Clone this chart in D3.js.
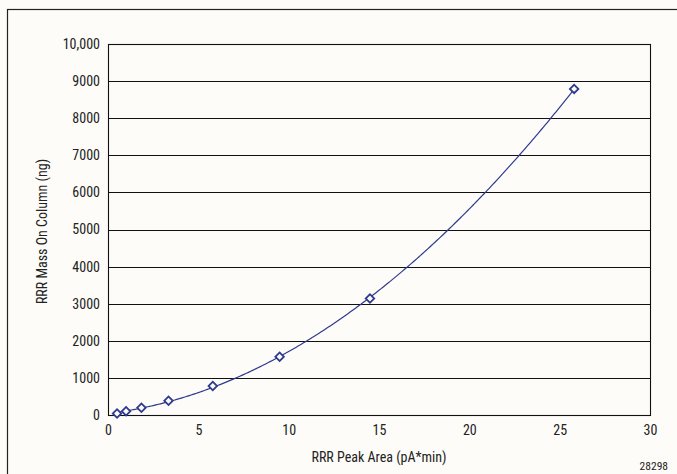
<!DOCTYPE html>
<html>
<head>
<meta charset="utf-8">
<script src="https://cdn.jsdelivr.net/npm/d3@7"></script>
<style>
  body { margin: 0; background: #fdfcf8; }
  svg text { font-family: "Liberation Sans Narrow", "Arial Narrow", "Roboto Condensed", sans-serif; fill: #222; }
</style>
</head>
<body>
<svg id="chart"></svg>
<script>
// peak area (pA*min) vs mass on column (ng)
const peakArea = [0.5, 1.0, 1.85, 3.35, 5.8, 9.5, 14.5, 25.8];
const massNg = [40, 100, 195, 385, 780, 1570, 3140, 8790];
const xTicks = [0, 5, 10, 15, 20, 25, 30];
const yTicks = [0, 1000, 2000, 3000, 4000, 5000, 6000, 7000, 8000, 9000, 10000];

const W = 677, H = 474;
const margin = { top: 44, right: 27, bottom: 59, left: 108 };
const width = W - margin.left - margin.right;
const height = H - margin.top - margin.bottom;
const navy = '#2e3a8f';

const svg = d3.select('#chart').attr('width', W).attr('height', H);

// outer frame
svg.append('rect').attr('x', 7.5).attr('y', 9.5).attr('width', W).attr('height', H)
  .attr('fill', '#fdfcf8').attr('stroke', '#222').attr('stroke-width', 1.2);

const g = svg.append('g').attr('transform', `translate(${margin.left},${margin.top})`);

const x = d3.scaleLinear().domain([0, 30]).range([0, width]);
const y = d3.scaleLinear().domain([0, 10000]).range([height, 0]);

// gridlines
g.selectAll('.grid').data(yTicks).join('line')
  .attr('x1', 0).attr('x2', width)
  .attr('y1', (d) => Math.round(y(d)) + 0.5).attr('y2', (d) => Math.round(y(d)) + 0.5)
  .attr('stroke', '#111').attr('stroke-width', 1.1);

g.append('rect').attr('x', 0.5).attr('y', 0.5).attr('width', width).attr('height', height)
  .attr('fill', 'none').attr('stroke', '#111').attr('stroke-width', 1.1);

// axes, labels only
const xAxis = d3.axisBottom(x).tickValues(xTicks).tickSize(0).tickPadding(10).tickFormat(d3.format('d'));
const yAxis = d3.axisLeft(y).tickValues(yTicks).tickSize(0).tickPadding(8)
  .tickFormat((d) => (d === 10000 ? '10,000' : String(d)));

g.append('g').attr('transform', `translate(0,${height})`).call(xAxis)
  .call((a) => a.select('.domain').remove())
  .selectAll('text').style('font-size', '14px');
g.append('g').call(yAxis)
  .call((a) => a.select('.domain').remove())
  .selectAll('text').style('font-size', '14px');

// quadratic least squares trendline
function polyFit(xs, ys) {
  const n = xs.length;
  const s = [0, 0, 0, 0, 0];
  const t = [0, 0, 0];
  for (let i = 0; i < n; i++) {
    for (let k = 0; k < 5; k++) s[k] += Math.pow(xs[i], k);
    for (let k = 0; k < 3; k++) t[k] += ys[i] * Math.pow(xs[i], k);
  }
  const A = [[s[0], s[1], s[2], t[0]], [s[1], s[2], s[3], t[1]], [s[2], s[3], s[4], t[2]]];
  for (let i = 0; i < 3; i++) {
    for (let j = i + 1; j < 3; j++) {
      const f = A[j][i] / A[i][i];
      for (let k = i; k < 4; k++) A[j][k] -= f * A[i][k];
    }
  }
  const c = [0, 0, 0];
  for (let i = 2; i >= 0; i--) {
    let v = A[i][3];
    for (let k = i + 1; k < 3; k++) v -= A[i][k] * c[k];
    c[i] = v / A[i][i];
  }
  return (v) => c[0] + c[1] * v + c[2] * v * v;
}
const fit = polyFit(peakArea, massNg);
const xs = d3.range(peakArea[0], peakArea[peakArea.length - 1] + 0.001, 0.1);

g.append('path')
  .datum(xs)
  .attr('fill', 'none').attr('stroke', navy).attr('stroke-width', 1.2)
  .attr('d', d3.line().x((d) => x(d)).y((d) => y(fit(d))));

// diamond markers
const pts = peakArea.map((v, i) => ({ x: v, y: massNg[i] }));
g.selectAll('.pt').data(pts).join('path')
  .attr('transform', (d) => `translate(${x(d.x)},${y(d.y)}) rotate(45)`)
  .attr('d', 'M-3,-3H3V3H-3Z')
  .attr('fill', '#fdfcf8').attr('stroke', navy).attr('stroke-width', 1.8);

// titles
svg.append('text').attr('x', margin.left + width / 2).attr('y', 462)
  .attr('text-anchor', 'middle').style('font-size', '14px').text('RRR Peak Area (pA*min)');
svg.append('text').attr('transform', `translate(47,${margin.top + height / 2 + 2}) rotate(-90)`)
  .attr('text-anchor', 'middle').style('font-size', '14px').text('RRR Mass On Column (ng)');
svg.append('text').attr('x', 668).attr('y', 470).attr('text-anchor', 'end')
  .style('font-size', '11.5px').text('28298');
</script>
</body>
</html>
